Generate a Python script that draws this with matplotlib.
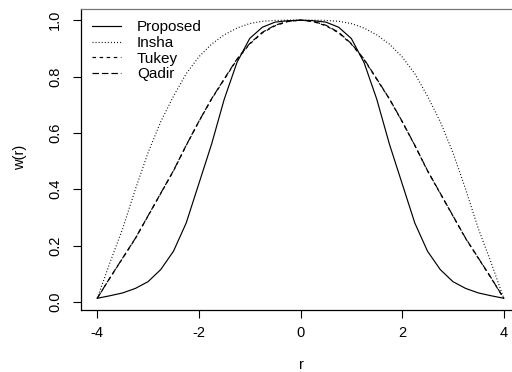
import matplotlib
matplotlib.use("Agg")
import matplotlib.pyplot as plt

plt.rcParams["font.family"] = ["Liberation Sans", "DejaVu Sans"]

# r grid (half), values for r >= 0; curves are symmetric
r_half = [0.0, 0.25, 0.5, 0.75, 1.0, 1.25, 1.5, 1.75, 2.0,
          2.25, 2.5, 2.75, 3.0, 3.25, 3.5, 3.75, 4.0]
proposed_half = [1.0, 0.998, 0.993, 0.975, 0.935, 0.85, 0.72, 0.56, 0.42,
                 0.28, 0.18, 0.115, 0.072, 0.048, 0.032, 0.022, 0.013]
insha_half = [1.0, 1.0, 0.999, 0.996, 0.988, 0.972, 0.948, 0.915, 0.87,
              0.81, 0.73, 0.64, 0.53, 0.40, 0.26, 0.14, 0.013]
tukey_half = [1.0, 0.995, 0.98, 0.955, 0.915, 0.86, 0.79, 0.72, 0.64,
              0.555, 0.465, 0.385, 0.305, 0.225, 0.155, 0.085, 0.013]
qadir_half = [1.0, 0.996, 0.982, 0.957, 0.917, 0.862, 0.792, 0.721, 0.641,
              0.556, 0.466, 0.386, 0.306, 0.226, 0.156, 0.086, 0.013]

labels = ["Proposed", "Insha", "Tukey", "Qadir"]
x_ticks = [-4, -2, 0, 2, 4]
y_ticks = [0.0, 0.2, 0.4, 0.6, 0.8, 1.0]


def mirror(xs, ys):
    xx = [-v for v in xs[::-1]] + xs[1:]
    yy = ys[::-1] + ys[1:]
    return xx, yy


fig = plt.figure(figsize=(5.12, 3.72), dpi=100)
ax = fig.add_axes([81 / 512, 62 / 372, 439 / 512, 301 / 372])

styles = [
    dict(linestyle="-"),
    dict(linestyle=(0, (0.8, 1.8))),
    dict(linestyle=(0, (3.0, 3.0))),
    dict(linestyle=(0, (5.5, 2.5))),
]
series = [proposed_half, insha_half, tukey_half, qadir_half]

handles = []
for lab, vals, st in zip(labels, series, styles):
    xx, yy = mirror(r_half, vals)
    ln, = ax.plot(xx, yy, color="black", linewidth=0.85, label=lab, **st)
    handles.append(ln)

ax.set_xlim(-4.32, 4.32)
ax.set_ylim(-0.0286, 1.0396)
ax.set_xticks(x_ticks)
ax.set_xticklabels([str(v) for v in x_ticks])
ax.set_yticks(y_ticks)
ax.set_yticklabels(["%.1f" % v for v in y_ticks], rotation=90, va="center")
ax.tick_params(direction="out", length=5.5, width=0.8, labelsize=10.5,
               color="black")
ax.tick_params(axis="x", pad=6)
ax.tick_params(axis="y", pad=8)
for sp in ax.spines.values():
    sp.set_linewidth(0.9)
    sp.set_color("black")
ax.spines["top"].set_color("#777777")

fig.text(301 / 512, 1 - 365 / 372, "r", ha="center", va="center", fontsize=10.5)
fig.text(20 / 512, 1 - 157 / 372, "w(r)", ha="center", va="center",
         rotation=90, fontsize=10.5)

ax.legend(handles=handles, loc="upper left", frameon=False, fontsize=11,
          handlelength=1.9, handletextpad=1.0, labelspacing=0.1,
          borderpad=0.2, borderaxespad=0.55)

fig.savefig("out.png", dpi=100)
